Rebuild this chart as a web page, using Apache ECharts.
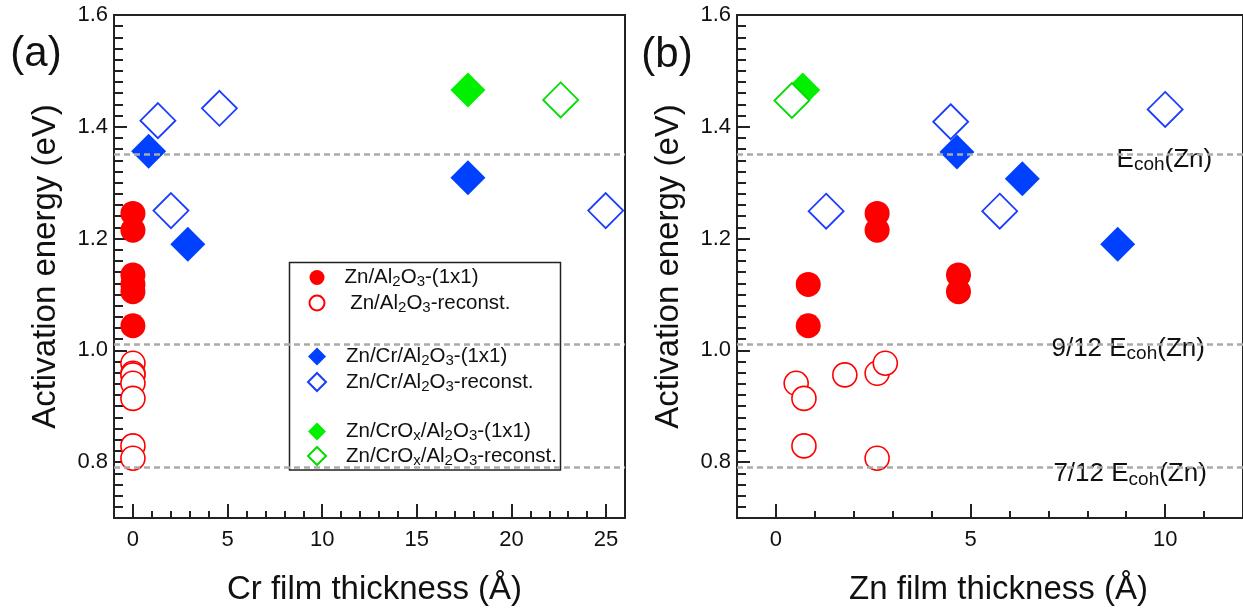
<!DOCTYPE html>
<html>
<head>
<meta charset="utf-8">
<script src="https://cdn.jsdelivr.net/npm/echarts@6/dist/echarts.min.js"></script>
<style>html,body{margin:0;padding:0;background:#fff}#c{width:1243px;height:611px}</style>
</head>
<body>
<div id="c"></div>
<script>
// ---------- data ----------
const yRange = [0.7, 1.6];
const crRange = [-1, 26];
const znRange = [-1, 12];
const yTickLabels = [0.8, 1.0, 1.2, 1.4, 1.6];
const crTickLabels = [0, 5, 10, 15, 20, 25];
const znTickLabels = [0, 5, 10];
const refLines = [1.35, 1.0125, 0.7875];
const refLabels = ['E_{coh}(Zn)', '9/12 E_{coh}(Zn)', '7/12 E_{coh}(Zn)'];

const seriesNames = [
  'Zn/Al_2O_3-(1x1)',
  ' Zn/Al_2O_3-reconst.',
  'Zn/Cr/Al_2O_3-(1x1)',
  'Zn/Cr/Al_2O_3-reconst.',
  'Zn/CrO_x/Al_2O_3-(1x1)',
  'Zn/CrO_x/Al_2O_3-reconst.'
];

// panel (a): x = Cr film thickness
const aZnAl1x1 = [[0,1.245],[0,1.215],[0,1.135],[0,1.118],[0,1.105],[0,1.044]];
const aZnAlRec = [[0,0.977],[0,0.959],[0,0.956],[0,0.941],[0,0.914],[0,0.829],[0,0.807]];
const aZnCrAl1x1 = [[0.83,1.356],[2.9,1.19],[17.7,1.309]];
const aZnCrAlRec = [[1.32,1.411],[4.57,1.433],[2.01,1.25],[24.98,1.25]];
const aZnCrOx1x1 = [[17.7,1.466]];
const aZnCrOxRec = [[22.6,1.448]];

// panel (b): x = Zn film thickness
const bZnAl1x1 = [[2.6,1.245],[2.6,1.215],[4.69,1.135],[4.69,1.105],[0.83,1.118],[0.83,1.044]];
const bZnAlRec = [[0.52,0.941],[0.72,0.914],[1.77,0.956],[2.6,0.959],[2.81,0.977],[0.72,0.829],[2.6,0.807]];
const bZnCrAl1x1 = [[4.65,1.355],[6.33,1.307],[8.78,1.19]];
const bZnCrAlRec = [[4.49,1.409],[10.0,1.431],[1.29,1.249],[5.75,1.249]];
const bZnCrOx1x1 = [[0.69,1.466]];
const bZnCrOxRec = [[0.41,1.447]];

// ---------- helpers ----------
const FONT = 'Liberation Sans, Arial, Helvetica, sans-serif';
function toRich(str, a, b) {
  const re = /_\{([^}]*)\}|_(\w)/g;
  let out = '', last = 0, m;
  while ((m = re.exec(str))) {
    if (m.index > last) out += '{' + a + '|' + str.slice(last, m.index) + '}';
    out += '{' + b + '|' + (m[1] || m[2]) + '}';
    last = re.lastIndex;
  }
  if (last < str.length) out += '{' + a + '|' + str.slice(last) + '}';
  return out;
}

const RED = '#ff0000', BLUE = '#0040ff', BLUE_O = '#1a3cff', GREEN = '#00f000', GREEN_O = '#00dd00';
const styles = [
  { symbol: 'circle', size: 25, item: { color: RED, opacity: 1 } },
  { symbol: 'circle', size: 24, item: { color: '#ffffff', borderColor: RED, borderWidth: 1.6, opacity: 1 } },
  { symbol: 'diamond', size: 35, item: { color: BLUE, opacity: 1 } },
  { symbol: 'diamond', size: 35, item: { color: '#ffffff', borderColor: BLUE_O, borderWidth: 1.8, opacity: 1 } },
  { symbol: 'diamond', size: 35, item: { color: GREEN, opacity: 1 } },
  { symbol: 'diamond', size: 35, item: { color: '#ffffff', borderColor: GREEN_O, borderWidth: 1.8, opacity: 1 } }
];
const panelA = [aZnAl1x1, aZnAlRec, aZnCrAl1x1, aZnCrAlRec, aZnCrOx1x1, aZnCrOxRec];
const panelB = [bZnAl1x1, bZnAlRec, bZnCrAl1x1, bZnCrAlRec, bZnCrOx1x1, bZnCrOxRec];
const drawOrder = [0, 2, 4, 1, 3, 5];

const grids = [
  { left: 114, top: 15, width: 511, height: 510 },
  { left: 737, top: 15, width: 509, height: 510 }
];

function xAxes(gi, range, ticks, name, padL) {
  return [
    { type: 'value', gridIndex: gi, position: 'bottom', min: range[0], max: range[1],
      name: name, nameLocation: 'middle', nameGap: 55,
      nameTextStyle: { fontSize: 33, color: '#111', fontFamily: FONT, padding: [0, 0, 0, padL] },
      axisLine: { show: false, onZero: false }, splitLine: { show: false },
      axisTick: { inside: true, length: 14, customValues: ticks, lineStyle: { color: '#222', width: 2 } },
      axisLabel: { customValues: ticks, fontSize: 22, color: '#111', fontFamily: FONT, margin: 11 } },
    { type: 'value', gridIndex: gi, position: 'bottom', min: range[0], max: range[1], interval: 1,
      axisLine: { show: false, onZero: false }, splitLine: { show: false },
      axisTick: { inside: true, length: 7, lineStyle: { color: '#222', width: 2 } },
      axisLabel: { show: false } }
  ];
}
function yAxes(gi) {
  return [
    { type: 'value', gridIndex: gi, position: 'left', min: yRange[0], max: yRange[1],
      name: 'Activation energy (eV)', nameLocation: 'middle', nameGap: 52,
      nameTextStyle: { fontSize: 33, color: '#111', fontFamily: FONT },
      axisLine: { show: false, onZero: false }, splitLine: { show: false },
      axisTick: { inside: true, length: 13, customValues: yTickLabels, lineStyle: { color: '#222', width: 2 } },
      axisLabel: { customValues: yTickLabels, fontSize: 22, color: '#111', fontFamily: FONT, margin: 6,
        formatter: v => Number(v).toFixed(1) } },
    { type: 'value', gridIndex: gi, position: 'left', min: yRange[0], max: yRange[1], interval: 0.02,
      axisLine: { show: false, onZero: false }, splitLine: { show: false },
      axisTick: { inside: true, length: 9, lineStyle: { color: '#222', width: 2 } },
      axisLabel: { show: false } }
  ];
}

const series = [];
[panelA, panelB].forEach((panel, p) => {
  drawOrder.forEach(i => {
    series.push({
      type: 'scatter', name: seriesNames[i], xAxisIndex: p * 2, yAxisIndex: p * 2,
      symbol: styles[i].symbol, symbolSize: styles[i].size, itemStyle: styles[i].item,
      data: panel[i], silent: true, z: 2
    });
  });
});

const markLineStyle = {
  silent: true, symbol: ['none', 'none'], label: { show: false },
  lineStyle: { type: [6, 4], color: '#aaaaaa', width: 2.5 },
  data: refLines.map(v => ({ yAxis: v }))
};
series.push({ type: 'scatter', xAxisIndex: 0, yAxisIndex: 0, data: [], z: 3, markLine: markLineStyle });

const refLabelX = [9.98, 9.05, 9.1];
series.push({
  type: 'scatter', xAxisIndex: 2, yAxisIndex: 2, z: 4, silent: true,
  symbolSize: 1, itemStyle: { color: 'rgba(0,0,0,0)', opacity: 1 },
  markLine: markLineStyle,
  data: refLines.map((v, i) => ({ value: [refLabelX[i], v], name: refLabels[i] })),
  label: {
    show: true, position: 'inside', offset: [0, 5],
    backgroundColor: '#ffffff', padding: [0, 2],
    formatter: p => toRich(p.name, 'm', 's'),
    rich: {
      m: { fontSize: 26, lineHeight: 30, color: '#111', fontFamily: FONT },
      s: { fontSize: 19, lineHeight: 19, color: '#111', fontFamily: FONT, verticalAlign: 'bottom' }
    }
  }
});

const legendRich = {
  a: { fontSize: 20.5, lineHeight: 24, color: '#111', fontFamily: FONT },
  s: { fontSize: 15, lineHeight: 15, color: '#111', fontFamily: FONT, verticalAlign: 'bottom' }
};
function legend(names, left, top, size, gap) {
  return {
    orient: 'vertical', left: left, top: top, itemWidth: size, itemHeight: size, itemGap: gap,
    selectedMode: false, data: names,
    formatter: n => toRich(n, 'a', 's'),
    textStyle: { padding: [0, 0, 0, 15], rich: legendRich }
  };
}

const option = {
  animation: false,
  grid: grids.map(g => Object.assign({ show: true, borderColor: '#222', borderWidth: 2, backgroundColor: 'transparent' }, g)),
  xAxis: xAxes(0, crRange, crTickLabels, 'Cr film thickness (Å)', 10).concat(xAxes(1, znRange, znTickLabels, 'Zn film thickness (Å)', 17)),
  yAxis: yAxes(0).concat(yAxes(1)),
  legend: [
    legend([seriesNames[0], seriesNames[1]], 303.5, 262, 15, 3),
    legend([seriesNames[2], seriesNames[3]], 302, 341, 18, 3),
    legend([seriesNames[4], seriesNames[5]], 302, 416, 18, 2)
  ],
  graphic: [
    { type: 'rect', shape: { x: 289.5, y: 262.5, width: 271, height: 207.5 },
      style: { fill: 'none', stroke: '#222', lineWidth: 1.5 }, silent: true },
    { type: 'text', x: 36, y: 54, style: { text: '(a)', font: '42px ' + FONT, fill: '#111', align: 'center', verticalAlign: 'middle' } },
    { type: 'text', x: 667, y: 55, style: { text: '(b)', font: '42px ' + FONT, fill: '#111', align: 'center', verticalAlign: 'middle' } }
  ],
  series: series
};
const chart = echarts.init(document.getElementById('c'));
chart.setOption(option);
</script>
</body>
</html>
